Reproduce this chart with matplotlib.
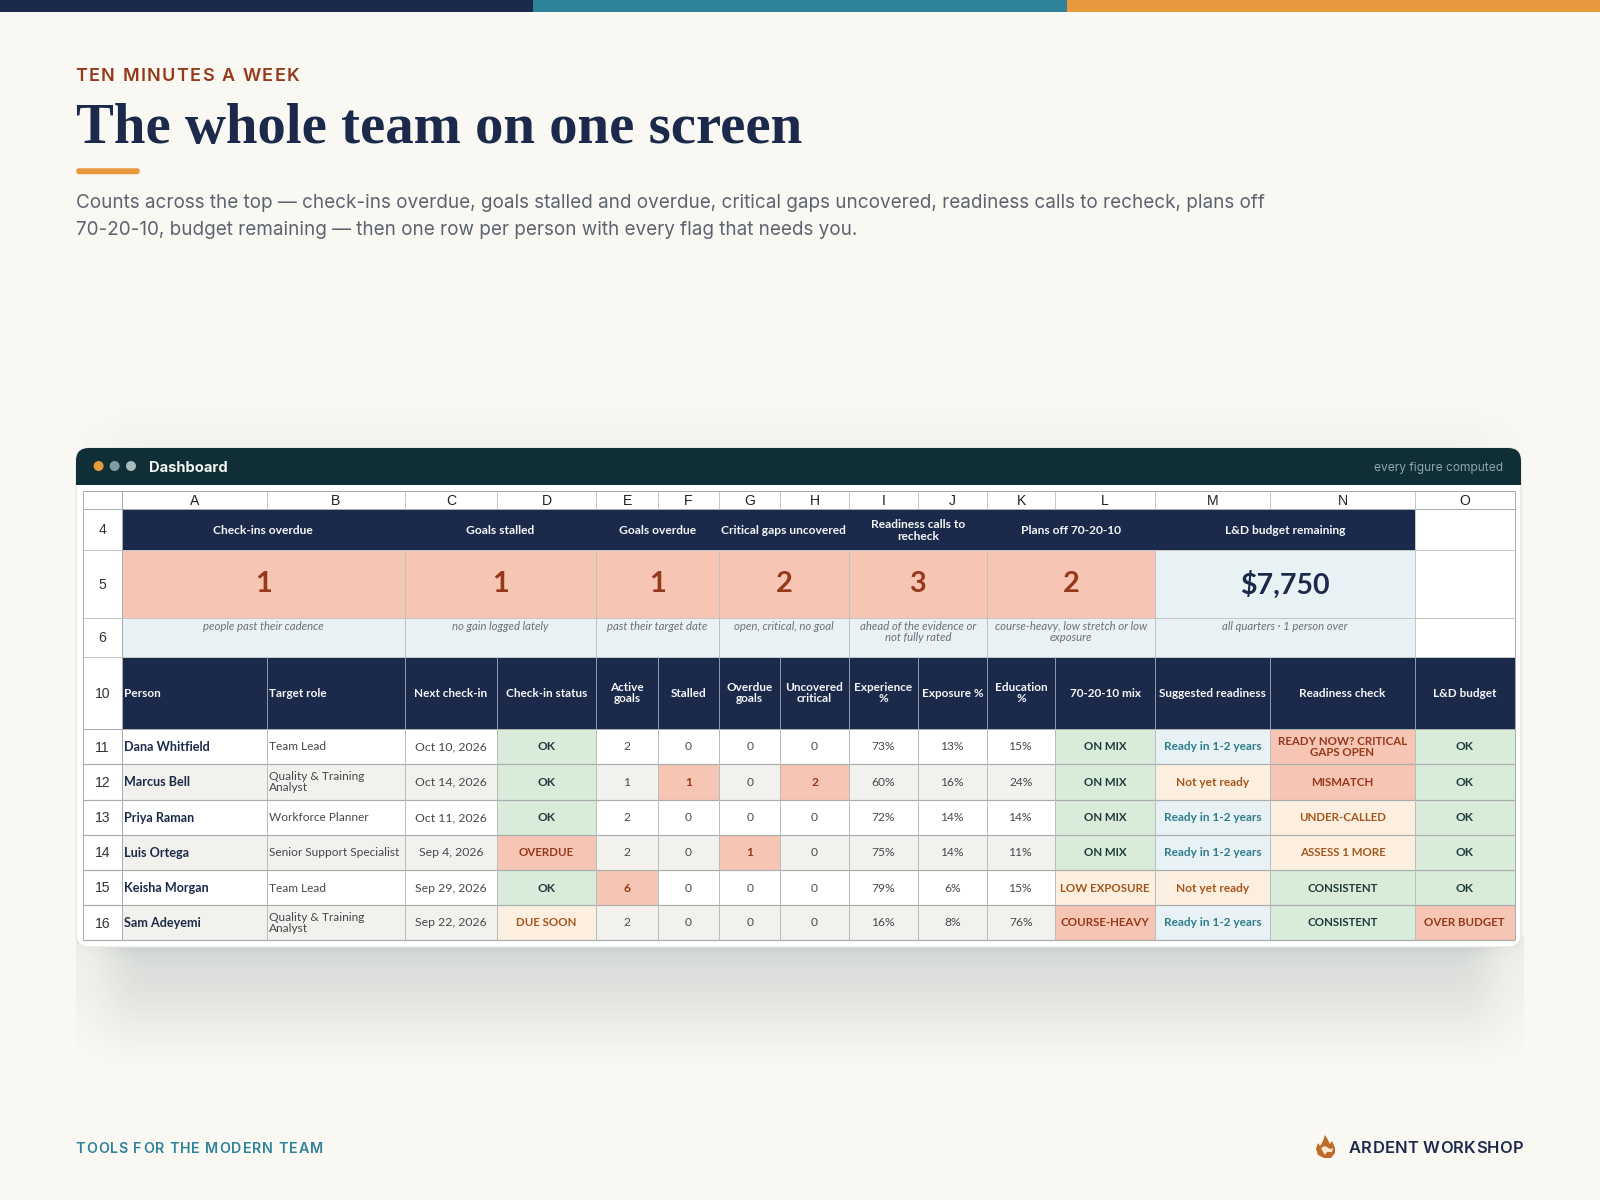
import numpy as np
import matplotlib
matplotlib.use("Agg")
import matplotlib.pyplot as plt
from matplotlib.patches import Rectangle, FancyBboxPatch, Circle, Polygon
from matplotlib.text import Text

# ---------- data ----------
eyebrow = "TEN MINUTES A WEEK"
title = "The whole team on one screen"
subtitle_lines = [
    "Counts across the top \u2014 check-ins overdue, goals stalled and overdue, critical gaps uncovered, readiness calls to recheck, plans off",
    "70-20-10, budget remaining \u2014 then one row per person with every flag that needs you.",
]
footer_left = "TOOLS FOR THE MODERN TEAM"
footer_right = "ARDENT WORKSHOP"
window_title = "Dashboard"
window_note = "every figure computed"

col_letters = list("ABCDEFGHIJKLMNO")
kpi_titles = ["Check-ins overdue", "Goals stalled", "Goals overdue", "Critical gaps uncovered",
              "Readiness calls to\nrecheck", "Plans off 70-20-10", "L&D budget remaining"]
kpi_values = ["1", "1", "1", "2", "3", "2", "$7,750"]
kpi_notes = ["people past their cadence", "no gain logged lately", "past their target date",
             "open, critical, no goal", "ahead of the evidence or\nnot fully rated",
             "course-heavy, low stretch or low\nexposure", "all quarters \u00b7 1 person over"]
kpi_col_spans = [(0, 2), (2, 4), (4, 6), (6, 8), (8, 10), (10, 12), (12, 14)]
kpi_alert = [True, True, True, True, True, True, False]

table_headers = ["Person", "Target role", "Next check-in", "Check-in status", "Active\ngoals", "Stalled",
                 "Overdue\ngoals", "Uncovered\ncritical", "Experience\n%", "Exposure %", "Education\n%",
                 "70-20-10 mix", "Suggested readiness", "Readiness check", "L&D budget"]
row_numbers = [11, 12, 13, 14, 15, 16]
persons = ["Dana Whitfield", "Marcus Bell", "Priya Raman", "Luis Ortega", "Keisha Morgan", "Sam Adeyemi"]
roles = ["Team Lead", "Quality & Training\nAnalyst", "Workforce Planner", "Senior Support Specialist",
         "Team Lead", "Quality & Training\nAnalyst"]
next_checkin = ["Oct 10, 2026", "Oct 14, 2026", "Oct 11, 2026", "Sep 4, 2026", "Sep 29, 2026", "Sep 22, 2026"]
checkin_status = ["OK", "OK", "OK", "OVERDUE", "OK", "DUE SOON"]
active_goals = [2, 1, 2, 2, 6, 2]
stalled_goals = [0, 1, 0, 0, 0, 0]
overdue_goals = [0, 0, 0, 1, 0, 0]
uncovered_critical = [0, 2, 0, 0, 0, 0]
experience_pct = [73, 60, 72, 75, 79, 16]
exposure_pct = [13, 16, 14, 14, 6, 8]
education_pct = [15, 24, 14, 11, 15, 76]
mix_flag = ["ON MIX", "ON MIX", "ON MIX", "ON MIX", "LOW EXPOSURE", "COURSE-HEAVY"]
suggested = ["Ready in 1-2 years", "Not yet ready", "Ready in 1-2 years", "Ready in 1-2 years",
             "Not yet ready", "Ready in 1-2 years"]
readiness_check = ["READY NOW? CRITICAL\nGAPS OPEN", "MISMATCH", "UNDER-CALLED", "ASSESS 1 MORE",
                   "CONSISTENT", "CONSISTENT"]
budget_flag = ["OK", "OK", "OK", "OK", "OK", "OVER BUDGET"]

# ---------- style ----------
BG = "#F9F8F3"
NAVY = "#1B2A4A"
TEAL = "#2E8299"
ORANGE = "#E8993C"
RUST = "#96391A"
WIN = "#0F2E36"
GRID = "#C6C6C4"
GRID_D = "#A9ADAD"
TONES = {
    "good": ("#D9EBD9", "#1E3A3C"),
    "warn": ("#FDEFDF", "#A5561C"),
    "bad": ("#F6C5B4", "#96391A"),
    "info": ("#E8F1F4", "#2E7D8C"),
}
TONE_OF = {
    "OK": "good", "ON MIX": "good", "CONSISTENT": "good",
    "DUE SOON": "warn", "LOW EXPOSURE": "warn", "Not yet ready": "warn",
    "UNDER-CALLED": "warn", "ASSESS 1 MORE": "warn",
    "OVERDUE": "bad", "COURSE-HEAVY": "bad", "MISMATCH": "bad", "OVER BUDGET": "bad",
    "READY NOW? CRITICAL\nGAPS OPEN": "bad",
    "Ready in 1-2 years": "info",
}
CAL = "Lato"
col_edges = [121.7, 267, 404.8, 497, 596.2, 657.8, 719, 780.3, 848.8, 918, 986.8, 1055.3, 1155, 1270, 1415, 1514.5]
row_edges = {"head": (491, 509), 4: (509, 550), 5: (550, 618), 6: (618, 657), 10: (657, 729),
             11: (729, 764), 12: (764, 799.5), 13: (799.5, 834.5), 14: (834.5, 870), 15: (870, 905), 16: (905, 940)}
SHEET_L = 82.5


def px(p):
    return p * 0.72


class SpacedText(Text):
    """One text whose glyphs are drawn with extra tracking (pixels)."""

    def __init__(self, x, y, s, tracking, **kw):
        super().__init__(x, y, s, ha="left", va="baseline", **kw)
        self.tracking = tracking

    def draw(self, renderer):
        full = self.get_text()
        x0, y0 = self.get_position()
        px0, py0 = self.get_transform().transform((x0, y0))
        prop = self.get_fontproperties()
        inv = self.get_transform().inverted()
        for i, ch in enumerate(full):
            w = renderer.get_text_width_height_descent(full[:i], prop, False)[0] if i else 0
            nx, ny = inv.transform((px0 + w + i * self.tracking, py0))
            Text.set_text(self, ch)
            Text.set_position(self, (nx, ny))
            if ch != " ":
                super().draw(renderer)
        Text.set_text(self, full)
        Text.set_position(self, (x0, y0))


fig = plt.figure(figsize=(16, 12), dpi=100, facecolor=BG)
ax = fig.add_axes([0, 0, 1, 1])
ax.set_axis_off()


def T(x, y, s, size, color, ha="center", va="center", weight="normal", family=CAL, style="normal", ls=1.0, z=6):
    return ax.text(x, y, s, fontsize=px(size), color=color, ha=ha, va=va, weight=weight, family=family,
                   style=style, linespacing=ls, zorder=z)


def ST(x, y, s, tracking, size, color, weight=600, family="Inter"):
    t = SpacedText(x, y, s, tracking, fontsize=px(size), color=color, weight=weight, family=family, zorder=6,
                   transform=ax.transData)
    ax.add_artist(t)
    return t


def R(x0, y0, x1, y1, fc, z=3):
    ax.add_patch(Rectangle((x0, y0), x1 - x0, y1 - y0, fc=fc, ec="none", lw=0, zorder=z))


# top bars
R(0, 0, 533, 12, NAVY)
R(533, 0, 1067, 12, TEAL)
R(1067, 0, 1600, 12, ORANGE)

# heading
ST(75.3, 80.8, eyebrow, 1.45, 18, RUST)
T(76, 143, title, 56.8, NAVY, ha="left", va="baseline", weight="bold", family="Liberation Serif")
ax.add_patch(FancyBboxPatch((78, 170), 60, 2.5, boxstyle="round,pad=0,rounding_size=1", fc=ORANGE, ec=ORANGE, lw=2.5, zorder=3))
T(76, 208, subtitle_lines[0], 18.9, "#5D6470", ha="left", va="baseline", family="Inter")
T(76, 235, subtitle_lines[1], 18.9, "#5D6470", ha="left", va="baseline", family="Inter")

# soft shadow behind the window
yy, xx = np.mgrid[390:1090, 76:1524]


def smooth(t):
    t = np.clip(t, 0, 1)
    return t * t * (3 - 2 * t)


sx = 0.3 + 0.7 * smooth((xx - 76) / 70.0) * smooth((1524 - xx) / 70.0)
below = 0.135 * (1 - smooth((yy - 950) / 132.0)) + 0.08 * np.exp(-np.maximum(yy - 947, 0) / 6.0)
above = 0.025 * smooth((yy - 392) / 56.0)
alpha = np.where(yy >= 935, below, above) * sx
shadow = np.zeros(xx.shape + (4,))
shadow[..., :3] = np.array([0.06, 0.18, 0.2])
shadow[..., 3] = alpha
ax.imshow(shadow, extent=(76, 1524, 1090, 390), aspect="auto", zorder=1, interpolation="bilinear")

# window
ax.add_patch(FancyBboxPatch((76, 448), 1445, 499, boxstyle="round,pad=0,rounding_size=13", fc="#FFFFFF",
                            ec="#E6E7E5", lw=1, zorder=2))
head = FancyBboxPatch((76, 448), 1445, 80, boxstyle="round,pad=0,rounding_size=13", fc=WIN, ec="none", zorder=3)
ax.add_patch(head)
head.set_clip_path(Rectangle((70, 440), 1460, 45, transform=ax.transData))
for cx, c in zip((98.6, 114.6, 131), (ORANGE, "#7F9EA3", "#A8BBBC")):
    ax.add_patch(Circle((cx, 466), 5, fc=c, ec="none", zorder=4))
T(149, 468.5, window_title, 14.7, "#F3F5F4", ha="left", weight="bold", family="Inter")
T(1503, 468.5, window_note, 12, "#8BA6A9", ha="right", family="Inter")

# cells
x = col_edges
L = SHEET_L
R(L, 491, x[-1], 940, "#FFFFFF", z=2.5)

# column letters
for i, c in enumerate(col_letters):
    T((x[i] + x[i + 1]) / 2, 501, c, 14, "#222222", family="Liberation Sans")

# row numbers
for k in [4, 5, 6, 10] + row_numbers:
    y0, y1 = row_edges[k]
    T((L + x[0]) / 2 + 0.5, (y0 + y1) / 2 + 1, str(k), 14, "#333333", family="Liberation Sans")

# KPI band
y4 = row_edges[4]
y5 = row_edges[5]
y6 = row_edges[6]
R(x[0], y4[0], x[14], y4[1], NAVY)
for (a, b), t, v, n, alert in zip(kpi_col_spans, kpi_titles, kpi_values, kpi_notes, kpi_alert):
    cx = (x[a] + x[b]) / 2
    T(cx, (y4[0] + y4[1]) / 2 + 1, t, 12, "#F4F5F6", weight="bold", ls=1.1)
    R(x[a], y5[0], x[b], y5[1], TONES["bad"][0] if alert else TONES["info"][0])
    T(cx, (y5[0] + y5[1]) / 2 + 0.5, v, 29 if alert else 28.5, RUST if alert else NAVY, weight="bold")
    R(x[a], y6[0], x[b], y6[1], TONES["info"][0])
    T(cx, y6[0] + 3, n, 11.4, "#6A7377", va="top", style="italic", ls=1.0)

# table header
y10 = row_edges[10]
R(x[0], y10[0], x[-1], y10[1], NAVY)
for i, h in enumerate(table_headers):
    if i < 2:
        T(x[i] + 2, (y10[0] + y10[1]) / 2 + 0.2, h, 11.8, "#F4F5F6", ha="left", weight="bold")
    else:
        T((x[i] + x[i + 1]) / 2, (y10[0] + y10[1]) / 2 + 0.2, h, 11.8, "#F4F5F6", weight="bold", ls=1.03)

# data rows
for r, num in enumerate(row_numbers):
    y0, y1 = row_edges[num]
    ym = (y0 + y1) / 2
    base = "#FFFFFF" if r % 2 == 0 else "#F2F1EE"
    R(x[0], y0, x[-1], y1, base)
    T(x[0] + 2, ym + 0.5, persons[r], 12.6, NAVY, ha="left", weight="bold")
    T(x[1] + 2, ym + 0.5, roles[r], 11.95, "#454A4E", ha="left", ls=1.03)
    T((x[2] + x[3]) / 2, ym + 0.5, next_checkin[r], 12.3, "#454A4E")
    numeric = [(4, active_goals[r], active_goals[r] > 5, ""), (5, stalled_goals[r], stalled_goals[r] > 0, ""),
               (6, overdue_goals[r], overdue_goals[r] > 0, ""), (7, uncovered_critical[r], uncovered_critical[r] > 0, ""),
               (8, experience_pct[r], False, "%"), (9, exposure_pct[r], False, "%"), (10, education_pct[r], False, "%")]
    for c, v, flag, suf in numeric:
        cx = (x[c] + x[c + 1]) / 2
        if flag:
            R(x[c], y0, x[c + 1], y1, TONES["bad"][0])
        T(cx, ym + 0.5, f"{v}{suf}", 12, TONES["bad"][1] if flag else "#454A4E", weight="bold" if flag else "normal")
    for c, v in ((3, checkin_status[r]), (11, mix_flag[r]), (12, suggested[r]), (13, readiness_check[r]), (14, budget_flag[r])):
        fc, tc = TONES[TONE_OF[v]]
        R(x[c], y0, x[c + 1], y1, fc)
        size = 11.9 if v in ("Ready in 1-2 years", "Not yet ready", "OK") else 11.5
        T((x[c] + x[c + 1]) / 2, ym + 0.5, v, size, tc, weight="bold", ls=1.06)


# grid lines
def HL(y, a, b, c=GRID, lw=1.0):
    ax.plot([a, b], [y, y], color=c, lw=lw * 0.72, zorder=5, solid_capstyle="butt")


def VL(xp, a, b, c=GRID, lw=1.0):
    ax.plot([xp, xp], [a, b], color=c, lw=lw * 0.72, zorder=5, solid_capstyle="butt")


for k in ["head", 4, 5, 6, 10]:
    HL(row_edges[k][1], L, x[-1], GRID_D if k in ("head", 10) else GRID)
HL(491, L, x[-1], GRID_D)
for num in row_numbers:
    HL(row_edges[num][1], L, x[-1], GRID_D, 1.2)
VL(L, 491, 940, GRID_D)
VL(x[-1], 491, 940, GRID_D)
VL(x[0], 491, 940, GRID_D)
for xp in x[1:-1]:
    VL(xp, 491, 509, GRID)
    VL(xp, 657, 729, "#8D97A8")
    VL(xp, 729, 940, "#B9BDBB")
for a, b in kpi_col_spans:
    VL(x[b], 550, 657, "#C0BFBD")
VL(x[14], 509, 657, GRID)

# footer
ST(75.5, 1153, footer_left, 0.93, 14.3, TEAL)
ST(1349, 1153, footer_right, 0.25, 16.5, NAVY)

flame = Polygon([(1325, 1135), (1328, 1140), (1330, 1144), (1332, 1141), (1335, 1148), (1335, 1153), (1331, 1158),
                 (1324, 1158), (1318, 1155), (1316, 1149), (1318, 1143), (1320, 1146), (1323, 1141)],
                closed=True, fc="#BD6A2A", ec="none", zorder=4)
ax.add_patch(flame)
ax.add_patch(Polygon([(1321, 1148), (1325, 1146), (1330, 1149), (1333, 1148), (1332, 1152), (1327, 1152), (1325, 1155), (1323, 1152)],
                     closed=True, fc="#F6E6D2", ec="none", zorder=5))

ax.set_xlim(0, 1600)
ax.set_ylim(1200, 0)
fig.savefig("out.png", dpi=100, facecolor=BG)
